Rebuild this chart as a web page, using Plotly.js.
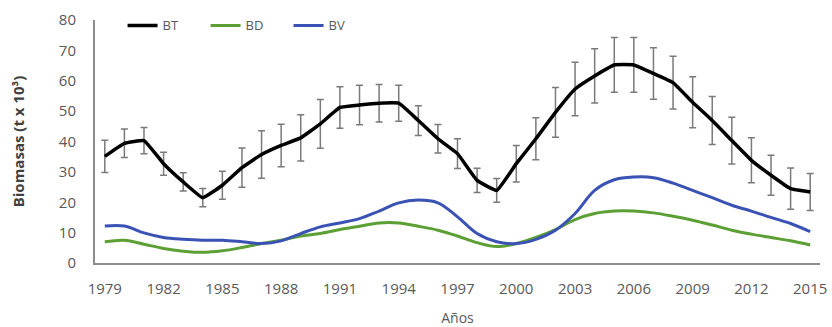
<!DOCTYPE html>
<html>
<head>
<meta charset="utf-8">
<script src="https://cdn.plot.ly/plotly-3.0.1.min.js"></script>
<style>html,body{margin:0;padding:0;background:#fff;}</style>
</head>
<body>
<div id="chart" style="width:832px;height:327px;"></div>
<script>
var years = ['1979','1980','1981','1982','1983','1984','1985','1986','1987','1988','1989','1990',
  '1991','1992','1993','1994','1995','1996','1997','1998','1999','2000','2001','2002',
  '2003','2004','2005','2006','2007','2008','2009','2010','2011','2012','2013','2014','2015'];
var tickYears = ['1979','1982','1985','1988','1991','1994','1997','2000','2003','2006','2009','2012','2015'];

var BT = [35.1,39.4,40.3,32.7,26.7,21.5,25.6,31.4,35.7,38.7,41.2,45.8,
  51.2,52.0,52.6,52.6,46.9,40.9,36.0,27.2,23.9,32.7,40.9,49.6,
  57.3,61.6,65.2,65.2,62.4,59.4,52.9,46.9,40.3,33.8,28.9,24.5,23.4];
var BT_err = [5.3,4.7,4.3,3.8,3.0,3.0,4.6,6.5,7.8,7.0,7.6,8.0,
  6.8,6.5,6.2,5.9,4.9,4.7,4.9,4.0,3.9,6.0,6.9,8.2,
  8.8,8.9,9.0,9.0,8.5,8.7,8.4,7.9,7.7,7.4,6.6,6.8,6.1];
var BD = [7.0,7.5,6.2,4.8,3.9,3.5,4.0,5.1,6.4,7.5,8.9,9.7,
  11.0,12.1,13.2,13.2,12.1,10.8,8.9,6.7,5.4,6.4,8.4,11.0,
  14.3,16.3,17.1,17.1,16.5,15.4,14.1,12.5,10.8,9.5,8.4,7.3,5.9];
var BV = [12.2,12.2,9.9,8.4,7.8,7.5,7.5,7.0,6.4,7.3,9.7,11.9,
  13.2,14.6,17.1,19.8,20.7,19.8,15.2,9.7,7.0,6.4,7.8,10.8,
  16.3,23.9,27.4,28.3,28.1,26.3,23.9,21.5,19.0,17.1,15.0,13.0,10.3];

var FONT = 'Open Sans, Liberation Sans, sans-serif';
var GRAY = '#595959';

var traces = [
  {x: years, y: BT, name: 'BT', type: 'scatter', mode: 'lines',
   line: {color: '#000000', width: 3.5, shape: 'spline', smoothing: 0.3},
   error_y: {type: 'data', array: BT_err, visible: true, color: '#7a7a7a', thickness: 1.5, width: 3.5}},
  {x: years, y: BD, name: 'BD', type: 'scatter', mode: 'lines',
   line: {color: '#5b9f35', width: 3, shape: 'spline', smoothing: 1}},
  {x: years, y: BV, name: 'BV', type: 'scatter', mode: 'lines',
   line: {color: '#3a52b4', width: 3, shape: 'spline', smoothing: 1}}
];

var layout = {
  width: 832, height: 327,
  margin: {l: 95, r: 12, t: 19, b: 64},
  paper_bgcolor: '#ffffff', plot_bgcolor: '#ffffff',
  font: {family: FONT, color: GRAY},
  showlegend: true,
  legend: {orientation: 'h', x: 0.038, xanchor: 'left', y: 1.035, yanchor: 'top',
    font: {family: FONT, size: 13, color: GRAY}, bgcolor: 'rgba(0,0,0,0)',
    entrywidth: 38, entrywidthmode: 'pixels', tracegroupgap: 0},
  xaxis: {type: 'category', range: [-0.5, 36.5], tickvals: tickYears, ticktext: tickYears,
    showline: true, linecolor: '#8c8c8c', linewidth: 2, showgrid: false, zeroline: false,
    ticks: '', ticklabelstandoff: 11,
    tickfont: {family: FONT, size: 15, color: GRAY},
    title: {text: 'Años', font: {family: FONT, size: 14, color: GRAY}, standoff: 24}},
  yaxis: {range: [0, 80], dtick: 10, tick0: 0,
    showline: true, linecolor: '#8c8c8c', linewidth: 2, showgrid: false, zeroline: false,
    ticks: '', ticklabelstandoff: 14,
    tickfont: {family: FONT, size: 15, color: GRAY},
    title: {text: 'Biomasas (t x 10³)', font: {family: FONT, size: 15, color: '#404040', weight: 'bold'}, standoff: 31}}
};

Plotly.newPlot('chart', traces, layout, {displayModeBar: false, staticPlot: true});
</script>
</body>
</html>
